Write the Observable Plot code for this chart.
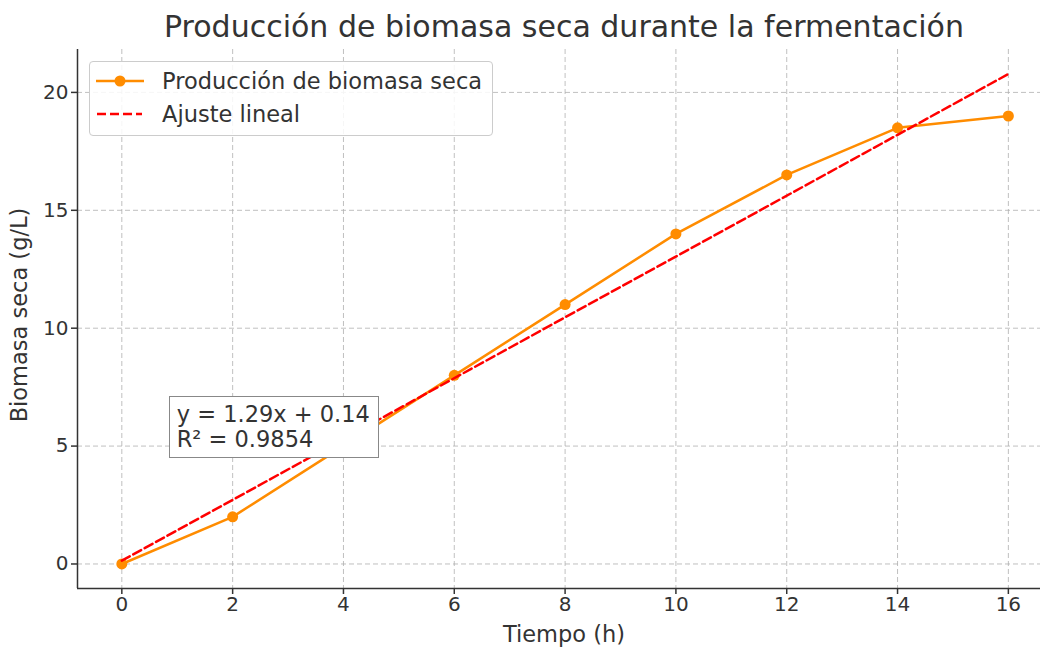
<!DOCTYPE html>
<html>
<head>
<meta charset="utf-8">
<script src="https://cdn.jsdelivr.net/npm/d3@7"></script>
<script src="https://cdn.jsdelivr.net/npm/@observablehq/plot@0.6"></script>
<style>
  html, body { margin: 0; padding: 0; background: #fff; }
  body { font-family: "DejaVu Sans", sans-serif; color: #333; }
  #wrap { position: relative; width: 1040px; height: 647px; overflow: hidden; }
  #title { position: absolute; left: 564px; top: 12px; transform: translateX(-50%); font-size: 30px; line-height: 30px; white-space: nowrap; color: #333; }
  #chart { position: absolute; left: 0; top: 49px; }
  #legend { position: absolute; left: 89px; top: 61px; width: 402px; height: 73px; border: 1px solid #ccc; border-radius: 4px; background: rgba(255,255,255,0.85); font-size: 22.5px; }
  .row { position: absolute; left: 0; height: 26px; width: 100%; }
  .row svg { position: absolute; left: 6px; top: 3px; }
  .row span { position: absolute; left: 72px; top: 0; line-height: 26px; white-space: nowrap; color: #333; }
  #annot { position: absolute; background: #fff; border: 1.5px solid #888; padding: 5px 8px 5px 7px; font-size: 22.5px; line-height: 25px; white-space: nowrap; color: #333; }
</style>
</head>
<body>
<div id="wrap">
  <div id="title"></div>
  <div id="chart"></div>
  <div id="legend"></div>
  <div id="annot"></div>
</div>
<script>
// ---- data ----
const tiempo = [0, 2, 4, 6, 8, 10, 12, 14, 16];
const biomasa = [0, 2, 5, 8, 11, 14, 16.5, 18.5, 19];
const ajusteX = [0, 16];
const ajusteY = [0.14, 20.78];
const xTicks = [0, 2, 4, 6, 8, 10, 12, 14, 16];
const yTicks = [0, 5, 10, 15, 20];
const titulo = "Producción de biomasa seca durante la fermentación";
const xLabel = "Tiempo (h)";
const yLabel = "Biomasa seca (g/L)";
const serieNombres = ["Producción de biomasa seca", "Ajuste lineal"];
const ecuacion = ["y = 1.29x + 0.14", "R² = 0.9854"];
const annotPos = [1, 5];

const colorData = "#ff8c00";
const colorFit = "#ff0000";

const datos = tiempo.map((t, i) => ({t, b: biomasa[i]}));
const ajuste = ajusteX.map((t, i) => ({t, b: ajusteY[i]}));

document.getElementById("title").textContent = titulo;

const chart = Plot.plot({
  width: 1040,
  height: 598,
  marginLeft: 77,
  marginRight: 0,
  marginTop: 0,
  marginBottom: 59,
  style: {fontFamily: "DejaVu Sans, sans-serif", fontSize: "20px", color: "#333", background: "transparent", overflow: "visible"},
  x: {domain: [-0.8, 16.58]},
  y: {domain: [-1.04, 21.82]},
  marks: [
    Plot.gridX(xTicks, {stroke: "#b0b0b0", strokeOpacity: 0.8, strokeDasharray: "5,3", strokeWidth: 1}),
    Plot.gridY(yTicks, {stroke: "#b0b0b0", strokeOpacity: 0.8, strokeDasharray: "5,3", strokeWidth: 1}),
    Plot.axisX(xTicks, {tickSize: 6, tickPadding: 2, fontSize: 20, label: null, stroke: "#333", strokeWidth: 1.5, tickFormat: d => String(d)}),
    Plot.axisY(yTicks, {tickSize: 6, tickPadding: 3, fontSize: 20, label: null, stroke: "#333", strokeWidth: 1.5, tickFormat: d => String(d)}),
    Plot.line(datos, {x: "t", y: "b", stroke: colorData, strokeWidth: 2.5}),
    Plot.dot(datos, {x: "t", y: "b", r: 5.5, fill: colorData, stroke: "none"}),
    Plot.line(ajuste, {x: "t", y: "b", stroke: colorFit, strokeWidth: 2.5, strokeDasharray: "9,4"}),
    Plot.ruleX([-0.8], {stroke: "#333", strokeWidth: 1.5}),
    Plot.ruleY([-1.04], {stroke: "#333", strokeWidth: 1.5}),
    Plot.text([xLabel], {frameAnchor: "bottom", dy: 46, dx: 5, fontSize: 22.5, fill: "#333", textAnchor: "middle", lineAnchor: "middle"}),
    Plot.text([yLabel], {frameAnchor: "left", dx: -58, dy: -4, rotate: -90, fontSize: 22.5, fill: "#333", textAnchor: "middle", lineAnchor: "middle"})
  ]
});
document.getElementById("chart").appendChild(chart);

// legend
const legend = document.getElementById("legend");
const rows = [
  {top: 6, name: serieNombres[0], sw: `<svg width="50" height="20"><line x1="0" y1="10" x2="48" y2="10" stroke="${colorData}" stroke-width="2.5"/><circle cx="24" cy="10" r="5.5" fill="${colorData}"/></svg>`},
  {top: 39, name: serieNombres[1], sw: `<svg width="50" height="20"><line x1="1" y1="10" x2="46" y2="10" stroke="${colorFit}" stroke-width="2.5" stroke-dasharray="9,4"/></svg>`}
];
rows.forEach(r => {
  const d = document.createElement("div");
  d.className = "row";
  d.style.top = r.top + "px";
  d.innerHTML = r.sw + `<span>${r.name}</span>`;
  legend.appendChild(d);
});

// annotation box placed via the plot scales
const sx = chart.scale("x"), sy = chart.scale("y");
const annot = document.getElementById("annot");
annot.innerHTML = ecuacion.join("<br>");
annot.style.left = (sx.apply(annotPos[0]) - 8) + "px";
annot.style.top = (sy.apply(annotPos[1]) + 49 - 50) + "px";
</script>
</body>
</html>
